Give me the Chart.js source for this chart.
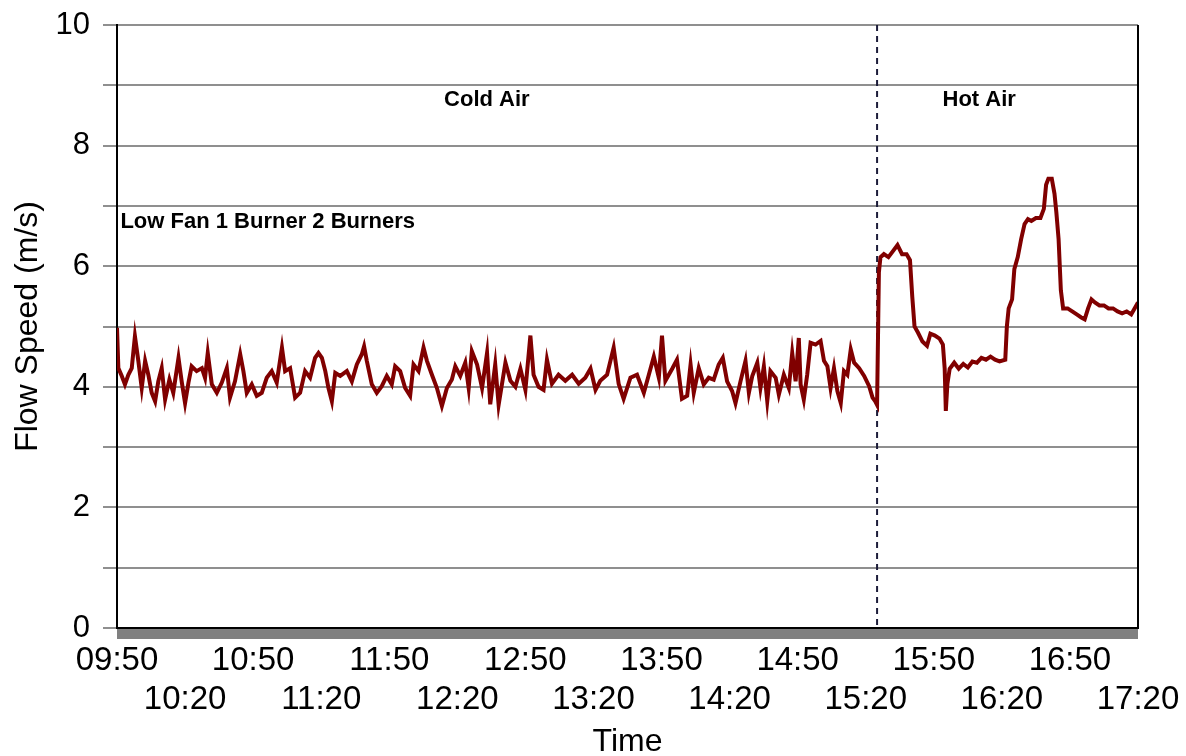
<!DOCTYPE html>
<html lang="en">
<head>
    <meta charset="UTF-8">
    <title>Flow Speed</title>
    <script src="https://cdn.jsdelivr.net/npm/chart.js@4.4.1/dist/chart.umd.min.js"></script>
    <style>
        body {
            margin: 0;
            background-color: white;
        }

        .chartbox {
            width: 1186px;
            height: 756px;
            position: relative;
        }
    </style>
</head>
<body>

    <div class="chartbox">
        <canvas id="flowChart"></canvas>
    </div>

    <script>
        // minutes after 09:50 -> flow speed (m/s)
        const flowSpeed = [
            [0, 4.98], [0.6, 4.31], [2.1, 4.18], [3.5, 4.04], [5.0, 4.2], [6.5, 4.31], [7.9, 4.84],
            [9.4, 4.43], [10.9, 3.98], [12.4, 4.43], [13.8, 4.2], [15.3, 3.9], [16.8, 3.76], [18.2, 4.09],
            [19.7, 4.31], [21.2, 3.79], [23.1, 4.12], [24.8, 3.9], [27.1, 4.48], [28.5, 4.09], [30, 3.73],
            [31.5, 4.07], [32.9, 4.34], [35.1, 4.26], [37.4, 4.31], [38.8, 4.15], [40, 4.56], [41.8, 4.04],
            [44, 3.9], [46.2, 4.07], [48.4, 4.31], [49.8, 3.82], [52, 4.09], [54.3, 4.54], [55.7, 4.26],
            [57.2, 3.9], [59.4, 4.04], [61.6, 3.85], [63.8, 3.9], [66, 4.15], [68.2, 4.26], [70.4, 4.07],
            [72.7, 4.65], [74.1, 4.26], [76.3, 4.31], [78.5, 3.82], [80.7, 3.9], [82.9, 4.26], [85.1, 4.15],
            [87.3, 4.48], [88.8, 4.56], [90.3, 4.48], [91.8, 4.26], [93.2, 3.98], [94.7, 3.76], [96.2, 4.23],
            [98.4, 4.18], [101.3, 4.26], [103.5, 4.09], [105.7, 4.37], [107.9, 4.54], [108.9, 4.67],
            [110.1, 4.43], [112.3, 4.04], [114.5, 3.9], [116.7, 4.01], [118.9, 4.18], [121.1, 4.04],
            [122.6, 4.34], [124.8, 4.26], [127, 3.98], [129.2, 3.85], [130.7, 4.37], [132.9, 4.26],
            [135.1, 4.65], [136.6, 4.43], [138.8, 4.2], [141, 3.98], [143.2, 3.68], [145.4, 3.98],
            [147.6, 4.12], [149.1, 4.34], [151.3, 4.18], [153.5, 4.4], [155, 3.98], [156.4, 4.59],
            [158.7, 4.37], [160.9, 3.98], [163.1, 4.56], [164.5, 3.71], [166.7, 4.37], [168.2, 3.7],
            [171.2, 4.4], [173.4, 4.1], [175.6, 4.0], [177.8, 4.3], [180, 3.95], [182.2, 4.85],
            [183.6, 4.2], [185.8, 4.0], [188, 3.95], [189.5, 4.45], [191.7, 4.05], [194.6, 4.2],
            [197.6, 4.1], [200.6, 4.2], [203.5, 4.05], [206.4, 4.15], [208.7, 4.3], [210.9, 3.95],
            [213, 4.1], [216, 4.2], [218.9, 4.65], [221.1, 4.05], [223.3, 3.8], [226.3, 4.15],
            [229.2, 4.2], [232.2, 3.9], [234.4, 4.2], [236.6, 4.5], [238.8, 4.15], [240.2, 4.85],
            [241.7, 4.1], [244.7, 4.3], [246.8, 4.45], [249, 3.8], [251.3, 3.85], [252.8, 4.37],
            [254.2, 3.9], [256.4, 4.31], [258.6, 4.04], [260.8, 4.15], [263, 4.12], [265.2, 4.37],
            [267, 4.48], [268.9, 4.09], [271.1, 3.93], [272.6, 3.73], [274.8, 4.09], [277, 4.43],
            [278.5, 3.9], [280, 4.18], [282.2, 4.4], [283.6, 3.98], [285.1, 4.34], [286.6, 3.76],
            [288, 4.26], [290.3, 4.15], [291.7, 3.87], [293.9, 4.2], [296.1, 3.98], [297.6, 4.56],
            [299.1, 4.09], [300.5, 4.81], [301.3, 4.04], [302.7, 3.79], [304.2, 4.2], [305.7, 4.73],
            [307.9, 4.7], [310.1, 4.76], [311.6, 4.43], [313.1, 4.34], [314.5, 3.98], [316, 4.31],
            [317.5, 3.93], [319, 3.73], [320.4, 4.26], [321.9, 4.2], [323.4, 4.62], [324.9, 4.4],
            [327.1, 4.31], [329.3, 4.18], [331.5, 4.01], [333, 3.82], [334.2, 3.76], [335, 3.7],
            [335.8, 5.9], [336.5, 6.15], [338, 6.2], [340, 6.15], [342, 6.25], [344, 6.35], [346, 6.2],
            [348, 6.2], [349.5, 6.1], [350.5, 5.5], [351.5, 5.0], [353, 4.9], [355, 4.75], [357, 4.68],
            [358.5, 4.88], [360.5, 4.85], [362.5, 4.8], [364, 4.7], [364.8, 4.3], [365.3, 3.6],
            [366, 4.05], [367, 4.3], [369, 4.4], [371, 4.3], [373, 4.38], [375, 4.32], [377, 4.42],
            [379, 4.4], [381, 4.48], [383, 4.45], [385, 4.5], [387, 4.45], [389, 4.42], [391.5, 4.45],
            [392.2, 5.0], [393, 5.3], [394.5, 5.45], [395.5, 5.95], [397, 6.15], [398.5, 6.45],
            [400, 6.7], [401.5, 6.78], [403, 6.75], [405, 6.8], [407, 6.8], [408.5, 6.95], [409.5, 7.35],
            [410.5, 7.45], [412, 7.45], [413.2, 7.2], [414, 6.9], [415, 6.45], [416, 5.6], [417, 5.3],
            [419, 5.3], [421, 5.25], [423, 5.2], [425, 5.15], [426.5, 5.12], [428, 5.3], [429.5, 5.45],
            [431, 5.4], [433, 5.35], [435, 5.35], [437, 5.3], [439, 5.3], [441, 5.25], [443, 5.22],
            [445, 5.25], [447, 5.2], [448.5, 5.3], [450, 5.4]
        ];

        const timeLabels = ['09:50', '10:20', '10:50', '11:20', '11:50', '12:20', '12:50', '13:20',
            '13:50', '14:20', '14:50', '15:20', '15:50', '16:20', '16:50', '17:20'];

        const switchMinute = 335;   // cold air -> hot air

        const notes = [
            { text: 'Cold Air', x: 163, y: 8.76, align: 'center' },
            { text: 'Hot Air', x: 380, y: 8.76, align: 'center' },
            { text: 'Low Fan 1 Burner 2 Burners', x: 1.5, y: 6.73, align: 'left' }
        ];

        Chart.defaults.font.family = "'Liberation Sans', Arial, sans-serif";
        Chart.defaults.color = "black";

        // dashed divider, grey floor band, right border and text notes
        const overlay = {
            id: 'overlay',
            beforeDatasetsDraw(chart) {
                const {ctx, chartArea, scales} = chart;
                const px = scales.x.getPixelForValue(switchMinute);
                ctx.save();
                ctx.strokeStyle = '#1c1c3a';
                ctx.lineWidth = 2;
                ctx.setLineDash([6, 5]);
                ctx.beginPath();
                ctx.moveTo(px, chartArea.top);
                ctx.lineTo(px, chartArea.bottom);
                ctx.stroke();
                ctx.restore();
            },
            afterDraw(chart) {
                const {ctx, chartArea, scales} = chart;
                ctx.save();
                ctx.fillStyle = '#808080';
                ctx.fillRect(chartArea.left, chartArea.bottom + 1, chartArea.right - chartArea.left, 10);
                ctx.strokeStyle = 'black';
                ctx.lineWidth = 2;
                ctx.beginPath();
                ctx.moveTo(chartArea.left, chartArea.bottom);
                ctx.lineTo(chartArea.right, chartArea.bottom);
                ctx.moveTo(chartArea.right, chartArea.top);
                ctx.lineTo(chartArea.right, chartArea.bottom);
                ctx.stroke();

                ctx.fillStyle = 'black';
                ctx.font = "bold 22px 'Liberation Sans', Arial, sans-serif";
                ctx.textBaseline = 'middle';
                notes.forEach(n => {
                    ctx.textAlign = n.align;
                    ctx.fillText(n.text, scales.x.getPixelForValue(n.x), scales.y.getPixelForValue(n.y));
                });
                ctx.restore();
            }
        };

        const flow = document.getElementById("flowChart").getContext('2d');
        const flowChart = new Chart(flow, {
            type: "line",
            data: {
                datasets: [{
                    label: 'Flow Speed',
                    data: flowSpeed.map(p => ({x: p[0], y: p[1]})),
                    borderColor: '#800000',
                    borderWidth: 4,
                    borderJoinStyle: 'miter',
                    pointRadius: 0,
                    tension: 0
                }]
            },
            options: {
                animation: false,
                responsive: true,
                maintainAspectRatio: false,
                layout: {
                    padding: {top: 25, right: 48, bottom: 0, left: 0}
                },
                plugins: {
                    legend: {display: false},
                    tooltip: {enabled: false}
                },
                scales: {
                    x: {
                        type: 'linear',
                        min: 0,
                        max: 450,
                        ticks: {
                            stepSize: 30,
                            autoSkip: false,
                            maxRotation: 0,
                            minRotation: 0,
                            padding: 13,
                            font: {size: 33},
                            callback: (v, i) => i % 2 === 0 ? timeLabels[i] : ['', timeLabels[i]]
                        },
                        grid: {display: false, drawTicks: false},
                        border: {display: true, color: 'black', width: 2},
                        title: {
                            display: true,
                            text: 'Time',
                            font: {size: 32, lineHeight: 1.0},
                            padding: {top: 0, bottom: -2}
                        },
                        afterFit: scale => {
                            scale.height = 128;
                            scale.paddingLeft = 0;
                            scale.paddingRight = 0;
                        }
                    },
                    y: {
                        min: 0,
                        max: 10,
                        ticks: {
                            stepSize: 1,
                            padding: 13,
                            font: {size: 31},
                            callback: v => v % 2 === 0 ? v : ''
                        },
                        grid: {color: '#8f8f8f', lineWidth: 2, tickLength: 14},
                        border: {display: true, color: 'black', width: 2},
                        title: {
                            display: true,
                            text: 'Flow Speed (m/s)',
                            font: {size: 32},
                            padding: {top: 9, bottom: 0}
                        },
                        afterFit: scale => {
                            scale.width = 117;
                            scale.paddingTop = 0;
                            scale.paddingBottom = 0;
                        }
                    }
                }
            },
            plugins: [overlay]
        });
    </script>
</body>
</html>
